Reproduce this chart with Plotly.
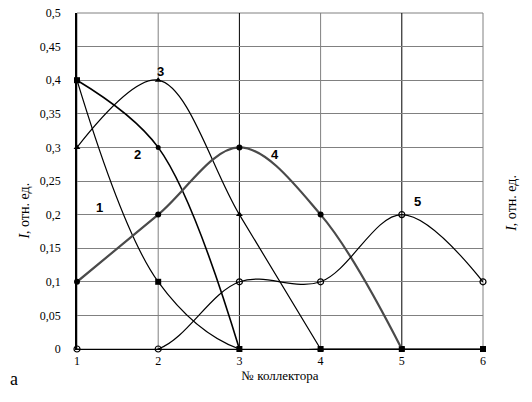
import plotly.graph_objects as go

x = [1, 2, 3, 4, 5, 6]
s1 = [0.4, 0.1, 0.0, 0.0, 0.0, 0.0]
s2 = [0.4, 0.3, 0.0]
s3 = [0.3, 0.4, 0.2, 0.0]
s4 = [0.1, 0.2, 0.3, 0.2, 0.0]
s5 = [0.0, 0.0, 0.1, 0.1, 0.2, 0.1]
labels = ["1", "2", "3", "4", "5"]
label_x = [1.28, 1.74, 2.03, 3.44, 5.19]
label_y = [0.21, 0.289, 0.4125, 0.29, 0.22]
yticks = [0, 0.05, 0.1, 0.15, 0.2, 0.25, 0.3, 0.35, 0.4, 0.45, 0.5]
grid_x = [2, 3, 4, 5]
grid_x_colors = ["#808080", "black", "#808080", "black"]

fig = go.Figure()
fig.add_shape(type="rect", xref="paper", yref="paper", x0=0, x1=1, y0=0, y1=1,
              line=dict(color="#808080", width=1), layer="below")
for gx, gc in zip(grid_x, grid_x_colors):
    fig.add_shape(type="line", xref="x", yref="paper", x0=gx, x1=gx, y0=0, y1=1,
                  line=dict(color=gc, width=1), layer="below")

common = dict(mode="lines+markers", line_shape="spline", cliponaxis=False, showlegend=False)
fig.add_trace(go.Scatter(x=x[:len(s1)], y=s1, line=dict(color="black", width=1.2, smoothing=1),
                         marker=dict(symbol="square", size=6, color="black"), **common))
fig.add_trace(go.Scatter(x=x[:len(s2)], y=s2, line=dict(color="black", width=1.6, smoothing=1),
                         marker=dict(symbol="circle", size=5, color="black"), **common))
fig.add_trace(go.Scatter(x=x[:len(s3)], y=s3, line=dict(color="black", width=1.2, smoothing=1),
                         marker=dict(symbol="triangle-up", size=6, color="black"), **common))
fig.add_trace(go.Scatter(x=x[:len(s4)], y=s4, line=dict(color="#4a4a4a", width=2.2, smoothing=1),
                         marker=dict(symbol="circle", size=6, color="black"), **common))
fig.add_trace(go.Scatter(x=x[:len(s5)], y=s5, line=dict(color="black", width=1.2, smoothing=1),
                         marker=dict(symbol="circle-open", size=6, color="black", line=dict(width=1.2)), **common))

for t, lx, ly in zip(labels, label_x, label_y):
    fig.add_annotation(x=lx, y=ly, text="<b>" + t + "</b>", showarrow=False,
                       font=dict(family="Liberation Sans", size=13, color="black"))

fig.add_annotation(xref="paper", yref="paper", x=-0.153, y=0.41, text="<i>I</i>, отн. ед.",
                   textangle=-90, showarrow=False, font=dict(family="Liberation Serif", size=14, color="black"))
fig.add_annotation(xref="paper", yref="paper", x=1.094, y=0.434, text="<i>I</i>, отн. ед.",
                   textangle=-90, showarrow=False,
                   font=dict(family="Liberation Serif", size=14, color="black"))
fig.add_annotation(xref="paper", yref="paper", x=-0.17, y=-0.125, text="a", showarrow=False,
                   font=dict(family="Liberation Serif", size=18, color="black"))

fig.update_layout(
    width=532, height=402,
    margin=dict(l=77, r=49, t=6, b=53),
    paper_bgcolor="white", plot_bgcolor="white",
    separators=", ",
    font=dict(family="Liberation Serif", size=12, color="black"),
)
fig.update_xaxes(range=[1, 6], tickvals=x, showgrid=False,
                 showline=True, linecolor="black", linewidth=1.2, zeroline=False,
                 title=dict(text="№ коллектора", font=dict(family="Liberation Serif", size=13), standoff=4))
fig.update_yaxes(range=[0, 0.5], tickvals=yticks, showgrid=True, gridcolor="#808080", gridwidth=1,
                 showline=True, linecolor="black", linewidth=1.5, zeroline=False,
                 ticklabelstandoff=12, ticklabeloverflow="allow")
fig.write_html("out.html", post_script="document.body.style.margin='0';",
               config={"displayModeBar": False})
